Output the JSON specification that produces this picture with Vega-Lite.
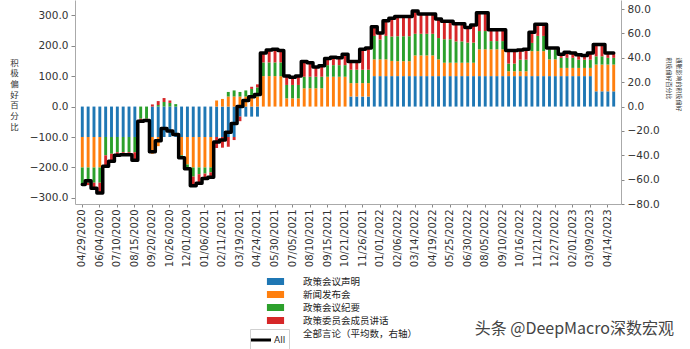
{
  "$schema": "https://vega.github.io/schema/vega-lite/v6.json",
  "width": 546,
  "height": 204,
  "autosize": {"type": "none"},
  "padding": {"left": 75, "top": 0, "right": 69, "bottom": 145},
  "config": {"view": {"stroke": null}, "font": "DejaVu Sans"},
  "title": {"text": "头条 @DeepMacro深数宏观", "orient": "bottom", "anchor": "end", "font": "Noto Sans CJK SC", "fontSize": 16, "fontWeight": "normal", "color": "#444", "offset": 0, "dy": -29, "dx": -7},
  "data": {"values": [
    {"date":"04/29/2020","a_statement":-100,"b_press":-100,"c_minutes":-55,"d_speeches":0,"all":-64},
    {"date":"05/11/2020","a_statement":-100,"b_press":-100,"c_minutes":-50,"d_speeches":-8,"all":-61},
    {"date":"05/23/2020","a_statement":-100,"b_press":-100,"c_minutes":-50,"d_speeches":-20,"all":-67},
    {"date":"06/04/2020","a_statement":-100,"b_press":-100,"c_minutes":-50,"d_speeches":-35,"all":-71},
    {"date":"06/16/2020","a_statement":-100,"b_press":0,"c_minutes":-60,"d_speeches":-35,"all":-49},
    {"date":"06/28/2020","a_statement":-100,"b_press":0,"c_minutes":-55,"d_speeches":-25,"all":-45},
    {"date":"07/10/2020","a_statement":-100,"b_press":0,"c_minutes":-50,"d_speeches":-12,"all":-40},
    {"date":"07/22/2020","a_statement":-100,"b_press":0,"c_minutes":-50,"d_speeches":-10,"all":-39.5},
    {"date":"08/03/2020","a_statement":-100,"b_press":0,"c_minutes":-50,"d_speeches":-10,"all":-39.5},
    {"date":"08/15/2020","a_statement":-100,"b_press":0,"c_minutes":-50,"d_speeches":-25,"all":-44},
    {"date":"08/27/2020","a_statement":0,"b_press":0,"c_minutes":-40,"d_speeches":-8,"all":-12},
    {"date":"09/08/2020","a_statement":0,"b_press":0,"c_minutes":-40,"d_speeches":-6,"all":-11.5},
    {"date":"09/20/2020","a_statement":-100,"b_press":-55,"c_minutes":0,"d_speeches":7,"all":-37},
    {"date":"10/02/2020","a_statement":-100,"b_press":-30,"c_minutes":5,"d_speeches":13,"all":-28},
    {"date":"10/14/2020","a_statement":-100,"b_press":0,"c_minutes":15,"d_speeches":13,"all":-18},
    {"date":"10/26/2020","a_statement":-100,"b_press":0,"c_minutes":12,"d_speeches":8,"all":-20},
    {"date":"11/07/2020","a_statement":-100,"b_press":0,"c_minutes":8,"d_speeches":0,"all":-23},
    {"date":"11/19/2020","a_statement":-100,"b_press":-60,"c_minutes":-8,"d_speeches":0,"all":-42},
    {"date":"12/01/2020","a_statement":-100,"b_press":-90,"c_minutes":-10,"d_speeches":-4,"all":-51},
    {"date":"12/13/2020","a_statement":-100,"b_press":-100,"c_minutes":-30,"d_speeches":-30,"all":-65},
    {"date":"12/25/2020","a_statement":-100,"b_press":-100,"c_minutes":-22,"d_speeches":-30,"all":-63},
    {"date":"01/06/2021","a_statement":-100,"b_press":-100,"c_minutes":-20,"d_speeches":-16,"all":-59},
    {"date":"01/18/2021","a_statement":-100,"b_press":-100,"c_minutes":-16,"d_speeches":-16,"all":-58},
    {"date":"01/30/2021","a_statement":-100,"b_press":20,"c_minutes":0,"d_speeches":-36,"all":-29},
    {"date":"02/11/2021","a_statement":-100,"b_press":25,"c_minutes":0,"d_speeches":-35,"all":-27.5},
    {"date":"02/23/2021","a_statement":-100,"b_press":33,"c_minutes":15,"d_speeches":-32,"all":-21},
    {"date":"03/07/2021","a_statement":-100,"b_press":33,"c_minutes":20,"d_speeches":-10,"all":-14},
    {"date":"03/19/2021","a_statement":-33,"b_press":33,"c_minutes":15,"d_speeches":-15,"all":0},
    {"date":"03/31/2021","a_statement":-33,"b_press":33,"c_minutes":20,"d_speeches":0,"all":5},
    {"date":"04/12/2021","a_statement":-33,"b_press":33,"c_minutes":25,"d_speeches":7,"all":8},
    {"date":"04/24/2021","a_statement":-33,"b_press":33,"c_minutes":30,"d_speeches":10,"all":10},
    {"date":"05/06/2021","a_statement":0,"b_press":100,"c_minutes":45,"d_speeches":30,"all":44},
    {"date":"05/18/2021","a_statement":0,"b_press":100,"c_minutes":45,"d_speeches":40,"all":46.5},
    {"date":"05/30/2021","a_statement":0,"b_press":100,"c_minutes":45,"d_speeches":42,"all":47},
    {"date":"06/11/2021","a_statement":0,"b_press":100,"c_minutes":45,"d_speeches":40,"all":46},
    {"date":"06/23/2021","a_statement":0,"b_press":27,"c_minutes":44,"d_speeches":29,"all":25},
    {"date":"07/05/2021","a_statement":0,"b_press":27,"c_minutes":44,"d_speeches":25,"all":24},
    {"date":"07/17/2021","a_statement":0,"b_press":27,"c_minutes":44,"d_speeches":29,"all":25},
    {"date":"07/29/2021","a_statement":0,"b_press":60,"c_minutes":38,"d_speeches":50,"all":37},
    {"date":"08/10/2021","a_statement":0,"b_press":60,"c_minutes":38,"d_speeches":46,"all":36},
    {"date":"08/22/2021","a_statement":0,"b_press":60,"c_minutes":38,"d_speeches":32,"all":32.5},
    {"date":"09/03/2021","a_statement":0,"b_press":60,"c_minutes":38,"d_speeches":36,"all":33.5},
    {"date":"09/15/2021","a_statement":0,"b_press":98,"c_minutes":38,"d_speeches":22,"all":39.5},
    {"date":"09/27/2021","a_statement":0,"b_press":98,"c_minutes":38,"d_speeches":26,"all":40.5},
    {"date":"10/09/2021","a_statement":0,"b_press":98,"c_minutes":38,"d_speeches":24,"all":40},
    {"date":"10/21/2021","a_statement":0,"b_press":98,"c_minutes":38,"d_speeches":36,"all":43},
    {"date":"11/02/2021","a_statement":33,"b_press":44,"c_minutes":44,"d_speeches":26,"all":37},
    {"date":"11/14/2021","a_statement":33,"b_press":44,"c_minutes":44,"d_speeches":26,"all":37},
    {"date":"11/26/2021","a_statement":33,"b_press":44,"c_minutes":44,"d_speeches":66,"all":47},
    {"date":"12/08/2021","a_statement":33,"b_press":44,"c_minutes":44,"d_speeches":70,"all":48},
    {"date":"12/20/2021","a_statement":100,"b_press":55,"c_minutes":77,"d_speeches":30,"all":65.5},
    {"date":"01/01/2022","a_statement":100,"b_press":55,"c_minutes":65,"d_speeches":22,"all":60.5},
    {"date":"01/13/2022","a_statement":100,"b_press":55,"c_minutes":77,"d_speeches":50,"all":70.5},
    {"date":"01/25/2022","a_statement":100,"b_press":50,"c_minutes":80,"d_speeches":60,"all":72.5},
    {"date":"02/06/2022","a_statement":100,"b_press":49,"c_minutes":82,"d_speeches":66,"all":74},
    {"date":"02/18/2022","a_statement":100,"b_press":49,"c_minutes":82,"d_speeches":66,"all":74},
    {"date":"03/02/2022","a_statement":100,"b_press":49,"c_minutes":82,"d_speeches":66,"all":74},
    {"date":"03/14/2022","a_statement":100,"b_press":68,"c_minutes":71,"d_speeches":75,"all":78.5},
    {"date":"03/26/2022","a_statement":100,"b_press":68,"c_minutes":71,"d_speeches":66,"all":76},
    {"date":"04/07/2022","a_statement":100,"b_press":68,"c_minutes":71,"d_speeches":66,"all":76},
    {"date":"04/19/2022","a_statement":100,"b_press":68,"c_minutes":71,"d_speeches":66,"all":76},
    {"date":"05/01/2022","a_statement":100,"b_press":55,"c_minutes":70,"d_speeches":63,"all":72},
    {"date":"05/13/2022","a_statement":100,"b_press":44,"c_minutes":77,"d_speeches":60,"all":70},
    {"date":"05/25/2022","a_statement":100,"b_press":44,"c_minutes":77,"d_speeches":60,"all":70},
    {"date":"06/06/2022","a_statement":100,"b_press":44,"c_minutes":70,"d_speeches":58,"all":68},
    {"date":"06/18/2022","a_statement":100,"b_press":44,"c_minutes":70,"d_speeches":58,"all":68},
    {"date":"06/30/2022","a_statement":100,"b_press":44,"c_minutes":66,"d_speeches":50,"all":65},
    {"date":"07/12/2022","a_statement":100,"b_press":44,"c_minutes":66,"d_speeches":58,"all":67},
    {"date":"07/24/2022","a_statement":100,"b_press":88,"c_minutes":60,"d_speeches":60,"all":77},
    {"date":"08/05/2022","a_statement":100,"b_press":88,"c_minutes":60,"d_speeches":60,"all":77},
    {"date":"08/17/2022","a_statement":100,"b_press":88,"c_minutes":27,"d_speeches":38,"all":63},
    {"date":"08/29/2022","a_statement":100,"b_press":88,"c_minutes":27,"d_speeches":38,"all":63},
    {"date":"09/10/2022","a_statement":100,"b_press":88,"c_minutes":27,"d_speeches":38,"all":63},
    {"date":"09/22/2022","a_statement":100,"b_press":16,"c_minutes":25,"d_speeches":43,"all":46},
    {"date":"10/04/2022","a_statement":100,"b_press":16,"c_minutes":25,"d_speeches":43,"all":46},
    {"date":"10/16/2022","a_statement":100,"b_press":16,"c_minutes":38,"d_speeches":32,"all":46.5},
    {"date":"10/28/2022","a_statement":100,"b_press":16,"c_minutes":38,"d_speeches":34,"all":47},
    {"date":"11/09/2022","a_statement":100,"b_press":82,"c_minutes":27,"d_speeches":35,"all":61},
    {"date":"11/21/2022","a_statement":100,"b_press":82,"c_minutes":50,"d_speeches":38,"all":67.5},
    {"date":"12/03/2022","a_statement":100,"b_press":82,"c_minutes":50,"d_speeches":38,"all":67.5},
    {"date":"12/15/2022","a_statement":100,"b_press":55,"c_minutes":33,"d_speeches":4,"all":48},
    {"date":"12/27/2022","a_statement":100,"b_press":55,"c_minutes":33,"d_speeches":4,"all":48},
    {"date":"01/08/2023","a_statement":100,"b_press":27,"c_minutes":33,"d_speeches":12,"all":43},
    {"date":"01/20/2023","a_statement":100,"b_press":27,"c_minutes":33,"d_speeches":18,"all":44.5},
    {"date":"02/01/2023","a_statement":100,"b_press":27,"c_minutes":33,"d_speeches":16,"all":44},
    {"date":"02/13/2023","a_statement":100,"b_press":27,"c_minutes":27,"d_speeches":16,"all":42.5},
    {"date":"02/25/2023","a_statement":100,"b_press":27,"c_minutes":27,"d_speeches":14,"all":42},
    {"date":"03/09/2023","a_statement":100,"b_press":27,"c_minutes":27,"d_speeches":22,"all":44},
    {"date":"03/21/2023","a_statement":50,"b_press":88,"c_minutes":27,"d_speeches":40,"all":51},
    {"date":"04/02/2023","a_statement":50,"b_press":88,"c_minutes":27,"d_speeches":40,"all":51},
    {"date":"04/14/2023","a_statement":50,"b_press":88,"c_minutes":22,"d_speeches":15,"all":44},
    {"date":"04/26/2023","a_statement":50,"b_press":88,"c_minutes":22,"d_speeches":15,"all":44}
  ]},
  "layer": [
    {
      "transform": [{"fold": ["a_statement", "b_press", "c_minutes", "d_speeches"], "as": ["cat", "v"]}],
      "mark": {"type": "bar"},
      "encoding": {
        "x": {
          "field": "date", "type": "ordinal", "sort": null,
          "scale": {"paddingInner": 0.5, "paddingOuter": 1.1},
          "axis": {
            "title": null, "labelAngle": 270, "labelFont": "DejaVu Sans", "labelFontSize": 10, "labelColor": "#333",
            "labelPadding": 2, "tickSize": 3, "tickColor": "#888", "domainColor": "#aaa",
            "values": ["04/29/2020","06/04/2020","07/10/2020","08/15/2020","09/20/2020","10/26/2020","12/01/2020","01/06/2021","02/11/2021","03/19/2021","04/24/2021","05/30/2021","07/05/2021","08/10/2021","09/15/2021","10/21/2021","11/26/2021","01/01/2022","02/06/2022","03/14/2022","04/19/2022","05/25/2022","06/30/2022","08/05/2022","09/10/2022","10/16/2022","11/21/2022","12/27/2022","02/01/2023","03/09/2023","04/14/2023"]
          }
        },
        "y": {
          "field": "v", "type": "quantitative", "stack": "zero",
          "scale": {"domain": [-320, 350], "nice": false, "zero": false},
          "axis": {
            "values": [-300, -200, -100, 0, 100, 200, 300], "format": ".1f", "grid": false,
            "labelFont": "DejaVu Sans", "labelFontSize": 10.5, "labelColor": "#333", "labelPadding": 3,
            "tickSize": 4, "tickColor": "#888", "domainColor": "#aaa",
            "title": ["积", "极", "偏", "好", "百", "分", "比"], "titleAngle": 0, "titleX": -61, "titleY": 58,
            "titleAlign": "center", "titleBaseline": "top", "titleFont": "Noto Sans CJK SC", "titleFontSize": 8.5,
            "titleLineHeight": 10.7, "titleFontWeight": "normal", "titleColor": "#333"
          }
        },
        "color": {
          "field": "cat", "type": "nominal",
          "scale": {"domain": ["a_statement", "b_press", "c_minutes", "d_speeches", "e_all"], "range": ["#1f77b4", "#ff7f0e", "#2ca02c", "#d62728", "rgba(0,0,0,0)"]},
          "legend": {
            "title": null, "orient": "none", "legendX": 194, "legendY": 275, "padding": 0,
            "symbolType": "M-1.4,-0.57H1.4V0.57H-1.4Z", "symbolSize": 150, "symbolStrokeWidth": 0,
            "labelFont": "Noto Sans CJK SC", "labelFontSize": 9.5, "labelColor": "#222", "labelOffset": 21, "rowPadding": 2,
            "labelExpr": "datum.label === 'a_statement' ? '政策会议声明' : datum.label === 'b_press' ? '新闻发布会' : datum.label === 'c_minutes' ? '政策会议纪要' : datum.label === 'd_speeches' ? '政策委员会成员讲话' : '全部言论（平均数，右轴）'"
          }
        },
        "order": {"field": "cat", "type": "ordinal"}
      }
    },
    {
      "mark": {"type": "line", "interpolate": "step", "strokeWidth": 3.5, "strokeJoin": "round", "strokeCap": "round"},
      "encoding": {
        "x": {"field": "date", "type": "ordinal", "sort": null},
        "y": {
          "field": "all", "type": "quantitative",
          "scale": {"domain": [-80, 87.5], "nice": false, "zero": false},
          "axis": {
            "values": [-80, -60, -40, -20, 0, 20, 40, 60, 80], "format": ".1f", "grid": false,
            "labelFont": "DejaVu Sans", "labelFontSize": 10.5, "labelColor": "#333", "labelPadding": 3,
            "tickSize": 3, "tickColor": "#888", "domainColor": "#aaa",
            "title": ["通胀影响的积极偏好", "积极偏好百分比"], "titleAngle": 90, "titleX": 60, "titleY": 57,
            "titleAlign": "left", "titleBaseline": "top", "titleFont": "Noto Sans CJK SC", "titleFontSize": 6,
            "titleLineHeight": 9.5, "titleFontWeight": "normal", "titleColor": "#333"
          }
        },
        "stroke": {
          "datum": "All", "type": "nominal",
          "scale": {"domain": ["All"], "range": ["#000000"]},
          "legend": {
            "title": null, "orient": "none", "legendX": 175, "legendY": 329, "padding": 3,
            "strokeColor": "#d0d0d0", "fillColor": "#ffffff",
            "symbolType": "M-1.6,0H1.6", "symbolSize": 156, "symbolStrokeWidth": 3, "symbolFillColor": "transparent",
            "labelFont": "DejaVu Sans", "labelFontSize": 9, "labelColor": "#222", "labelOffset": 5
          }
        }
      }
    }
  ],
  "resolve": {"scale": {"y": "independent", "color": "independent", "stroke": "independent"}}
}
